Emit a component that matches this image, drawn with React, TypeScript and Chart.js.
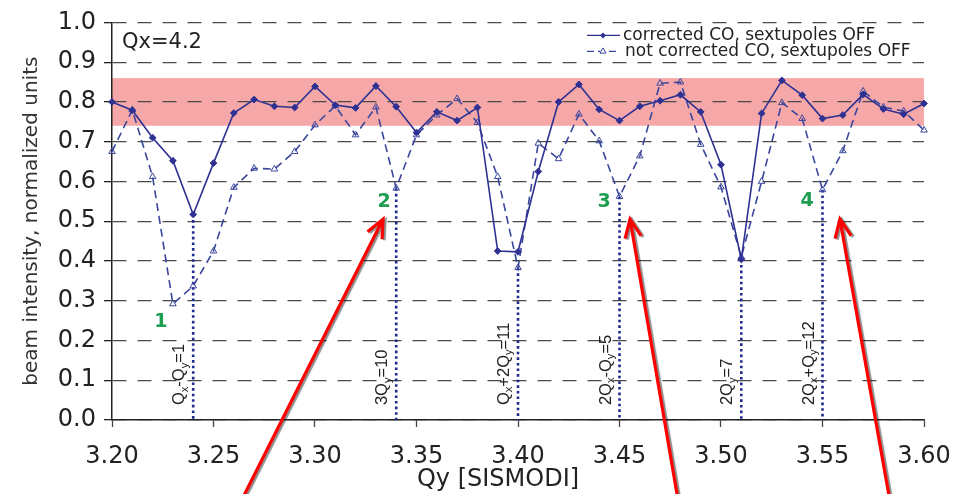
import React, { useEffect, useRef } from 'react';
import { Chart, registerables } from 'chart.js';

Chart.register(...registerables);

// ---------- data ----------
const qy = [
  3.20, 3.21, 3.22, 3.23, 3.24, 3.25, 3.26, 3.27, 3.28, 3.29,
  3.30, 3.31, 3.32, 3.33, 3.34, 3.35, 3.36, 3.37, 3.38, 3.39,
  3.40, 3.41, 3.42, 3.43, 3.44, 3.45, 3.46, 3.47, 3.48, 3.49,
  3.50, 3.51, 3.52, 3.53, 3.54, 3.55, 3.56, 3.57, 3.58, 3.59, 3.60,
];

const corrected = [
  0.800, 0.779, 0.710, 0.652, 0.517, 0.646, 0.772, 0.806, 0.789, 0.786,
  0.839, 0.792, 0.785, 0.840, 0.788, 0.723, 0.775, 0.753, 0.786, 0.425,
  0.423, 0.625, 0.800, 0.844, 0.781, 0.753, 0.789, 0.803, 0.818, 0.775,
  0.642, 0.404, 0.771, 0.854, 0.817, 0.758, 0.767, 0.819, 0.782, 0.769, 0.796,
];

const notCorrected = [
  0.675, 0.780, 0.612, 0.292, 0.337, 0.425, 0.585, 0.633, 0.631, 0.675,
  0.742, 0.790, 0.717, 0.787, 0.583, 0.717, 0.767, 0.808, 0.748, 0.612,
  0.383, 0.696, 0.657, 0.769, 0.702, 0.562, 0.664, 0.847, 0.850, 0.693,
  0.586, 0.410, 0.600, 0.798, 0.758, 0.579, 0.677, 0.827, 0.787, 0.777, 0.729,
];

const seriesNames = ['corrected CO, sextupoles OFF', 'not corrected CO, sextupoles OFF'];

// stable-intensity band
const bandRange = [0.74, 0.86];

// resonance lines
const resonanceQy = [3.24, 3.34, 3.40, 3.45, 3.51, 3.55];
const resonanceTop = [0.517, 0.583, 0.383, 0.562, 0.404, 0.579];
const resonanceLabels = ['Q_x-Q_y=1', '3Q_y=10', 'Q_x+2Q_y=11', '2Q_x-Q_y=5', '2Q_y=7', '2Q_x+Q_y=12'];
const resonanceLabelY = 0.0375;

// green numbered markers
const markerLabels = ['1', '2', '3', '4'];
const markerQy = [3.2241, 3.334, 3.4424, 3.5424];
const markerY = [0.2475, 0.5475, 0.5475, 0.55];

// red arrows (data coordinates)
const arrowTailQy = [3.264, 3.4788, 3.5831];
const arrowTailY = [-0.2, -0.2, -0.2];
const arrowTipQy = [3.3335, 3.4552, 3.5586];
const arrowTipY = [0.505, 0.505, 0.505];

const yTicks = { min: 0, max: 1, step: 0.1 };
const xTicks = { min: 3.2, max: 3.6, step: 0.05 };

const annotationText = 'Qx=4.2';
const xTitle = 'Qy [SISMODI]';
const yTitle = 'beam intensity, normalized units';

// ---------- styles ----------
const BLUE = '#2E3192';
const BLUE2 = '#3A469C';
const DOT_BLUE = '#1F2A90';
const SANS = "'DejaVu Sans'";
const ARIAL = "'Liberation Sans'";
const TEXT = '#222';

function drawRich(ctx: CanvasRenderingContext2D, text: string, size: number, family: string) {
  const parts: { t: string; sub: boolean }[] = [];
  for (let i = 0; i < text.length; i++) {
    if (text[i] === '_' && i + 1 < text.length) {
      parts.push({ t: text[i + 1], sub: true });
      i++;
    } else {
      const last = parts[parts.length - 1];
      if (last && !last.sub) last.t += text[i];
      else parts.push({ t: text[i], sub: false });
    }
  }
  let xpos = 0;
  for (const p of parts) {
    ctx.font = `${p.sub ? size * 0.68 : size}px ${family}`;
    ctx.fillText(p.t, xpos, p.sub ? size * 0.2 : 0);
    xpos += ctx.measureText(p.t).width;
  }
}

function drawArrow(ctx: CanvasRenderingContext2D, x1: number, y1: number, x2: number, y2: number) {
  const ang = Math.atan2(y2 - y1, x2 - x1);
  const L = 20;
  const h = 0.42;
  ctx.beginPath();
  ctx.moveTo(x1, y1);
  ctx.lineTo(x2, y2);
  ctx.moveTo(x2 - L * Math.cos(ang - h), y2 - L * Math.sin(ang - h));
  ctx.lineTo(x2, y2);
  ctx.lineTo(x2 - L * Math.cos(ang + h), y2 - L * Math.sin(ang + h));
  ctx.stroke();
}

function diamond(ctx: CanvasRenderingContext2D, x: number, y: number, r: number) {
  ctx.beginPath();
  ctx.moveTo(x, y - r);
  ctx.lineTo(x + r, y);
  ctx.lineTo(x, y + r);
  ctx.lineTo(x - r, y);
  ctx.closePath();
  ctx.fill();
}

function triangle(ctx: CanvasRenderingContext2D, x: number, y: number, r: number) {
  ctx.beginPath();
  ctx.moveTo(x, y - r);
  ctx.lineTo(x + r * 0.87, y + r * 0.5);
  ctx.lineTo(x - r * 0.87, y + r * 0.5);
  ctx.closePath();
  ctx.stroke();
}

const annotPlugin = {
  id: 'annot',
  beforeDraw(chart: any) {
    const { ctx, chartArea: a, scales } = chart;
    const y = scales.y;
    const top = y.getPixelForValue(bandRange[1]);
    const bot = y.getPixelForValue(bandRange[0]);
    ctx.save();
    ctx.fillStyle = '#F6A8A9';
    ctx.fillRect(a.left, top, a.right - a.left, bot - top);
    ctx.restore();
  },
  afterDraw(chart: any) {
    const { ctx, chartArea: a, scales } = chart;
    const x = scales.x;
    const y = scales.y;
    ctx.save();

    // resonance labels (rotated)
    ctx.fillStyle = TEXT;
    ctx.textBaseline = 'alphabetic';
    ctx.textAlign = 'left';
    resonanceQy.forEach((q, i) => {
      const px = x.getPixelForValue(q);
      const py = y.getPixelForValue(resonanceLabelY);
      ctx.save();
      ctx.translate(px - 9, py);
      ctx.rotate(-Math.PI / 2);
      drawRich(ctx, resonanceLabels[i], 16.5, ARIAL);
      ctx.restore();
    });

    // green numbers
    ctx.fillStyle = '#1E9E50';
    ctx.font = `bold 19px ${SANS}`;
    ctx.textAlign = 'center';
    ctx.textBaseline = 'middle';
    markerLabels.forEach((t, i) => {
      ctx.fillText(t, x.getPixelForValue(markerQy[i]), y.getPixelForValue(markerY[i]));
    });

    // Qx annotation
    ctx.fillStyle = TEXT;
    ctx.font = `21px ${SANS}`;
    ctx.textAlign = 'left';
    ctx.fillText(annotationText, a.left + 10, a.top + 20);

    // x title
    ctx.font = `24px ${SANS}`;
    ctx.textAlign = 'center';
    ctx.fillText(xTitle, (a.left + a.right) / 2 - 20, a.bottom + 60);

    // legend
    const lx = a.right - 337;
    const rows = [a.top + 13, a.top + 29];
    ctx.font = `17px ${SANS}`;
    ctx.textAlign = 'left';
    ctx.textBaseline = 'middle';
    ctx.lineWidth = 1.4;
    // row 1
    ctx.strokeStyle = BLUE;
    ctx.fillStyle = BLUE;
    ctx.setLineDash([]);
    ctx.beginPath();
    ctx.moveTo(lx, rows[0]);
    ctx.lineTo(lx + 33, rows[0]);
    ctx.stroke();
    diamond(ctx, lx + 16, rows[0], 3);
    // row 2
    ctx.strokeStyle = BLUE2;
    ctx.setLineDash([7, 4]);
    ctx.beginPath();
    ctx.moveTo(lx, rows[1]);
    ctx.lineTo(lx + 33, rows[1]);
    ctx.stroke();
    ctx.setLineDash([]);
    ctx.fillStyle = '#fff';
    ctx.beginPath();
    ctx.arc(lx + 16, rows[1], 3, 0, Math.PI * 2);
    ctx.fill();
    ctx.lineWidth = 1;
    triangle(ctx, lx + 16, rows[1], 3.5);
    ctx.fillStyle = TEXT;
    ctx.fillText(seriesNames[0], lx + 36, rows[0]);
    ctx.fillText(seriesNames[1], lx + 38, rows[1]);

    // red arrows
    ctx.strokeStyle = '#FF0000';
    ctx.lineWidth = 3.2;
    ctx.lineCap = 'butt';
    ctx.lineJoin = 'miter';
    ctx.shadowColor = 'rgba(0,0,0,0.45)';
    ctx.shadowOffsetX = 2;
    ctx.shadowOffsetY = 1;
    ctx.shadowBlur = 1;
    arrowTipQy.forEach((q, i) => {
      drawArrow(
        ctx,
        x.getPixelForValue(arrowTailQy[i]),
        y.getPixelForValue(arrowTailY[i]),
        x.getPixelForValue(q),
        y.getPixelForValue(arrowTipY[i])
      );
    });
    ctx.restore();
  },
};

export default function App() {
  const ref = useRef<HTMLCanvasElement>(null);

  useEffect(() => {
    const mainSets: any[] = [
      {
        label: seriesNames[0],
        data: qy.map((q, i) => ({ x: q, y: corrected[i] })),
        borderColor: BLUE,
        backgroundColor: BLUE,
        borderWidth: 1.6,
        pointStyle: 'rectRot',
        pointRadius: 3.4,
        pointBackgroundColor: BLUE,
        pointBorderColor: BLUE,
        pointBorderWidth: 1,
        tension: 0,
        clip: false,
        order: 1,
      },
      {
        label: seriesNames[1],
        data: qy.map((q, i) => ({ x: q, y: notCorrected[i] })),
        borderColor: BLUE2,
        backgroundColor: 'rgba(255,255,255,0)',
        borderWidth: 1.6,
        borderDash: [8, 5],
        pointStyle: 'triangle',
        pointRadius: 3.8,
        pointBackgroundColor: 'rgba(255,255,255,0)',
        pointBorderColor: BLUE2,
        pointBorderWidth: 1,
        tension: 0,
        clip: false,
        order: 2,
      },
    ];
    const resSets = resonanceQy.map((q, i) => ({
      label: resonanceLabels[i],
      data: [
        { x: q, y: resonanceTop[i] },
        { x: q, y: 0 },
      ],
      borderColor: DOT_BLUE,
      borderWidth: 2.6,
      borderDash: [2.6, 3],
      pointRadius: 0,
      clip: false,
      order: 3,
    }));

    const chart = new Chart(ref.current as HTMLCanvasElement, {
      type: 'line',
      data: { datasets: [...mainSets, ...resSets] },
      options: {
        animation: false,
        responsive: false,
        devicePixelRatio: 1,
        events: [],
        layout: { padding: { top: 20, right: 48, left: 0, bottom: 0 } },
        plugins: {
          legend: { display: false },
          tooltip: { enabled: false },
        },
        scales: {
          x: {
            type: 'linear',
            min: xTicks.min,
            max: xTicks.max,
            afterFit: (s: any) => {
              s.height = 74;
            },
            ticks: {
              stepSize: xTicks.step,
              callback: (v: any) => Number(v).toFixed(2),
              font: { family: SANS, size: 24 },
              color: TEXT,
              padding: 15,
              maxRotation: 0,
              autoSkip: false,
            },
            grid: {
              drawOnChartArea: false,
              drawTicks: true,
              tickLength: 7,
              tickColor: '#444',
              tickWidth: 1.3,
            },
            border: { color: '#222', width: 1.5 },
          },
          y: {
            type: 'linear',
            min: yTicks.min,
            max: yTicks.max,
            afterFit: (s: any) => {
              s.width = 112;
            },
            ticks: {
              stepSize: yTicks.step,
              callback: (v: any) => Number(v).toFixed(1),
              font: { family: SANS, size: 24 },
              color: TEXT,
              padding: 8,
            },
            grid: {
              color: '#4a4a4a',
              lineWidth: 1.3,
              drawTicks: true,
              tickLength: 8,
              tickColor: '#222',
              tickWidth: 1.3,
              tickBorderDash: [],
            },
            border: { color: '#222', width: 1.5, dash: [14, 11] },
            title: {
              display: true,
              text: yTitle,
              font: { family: SANS, size: 20 },
              color: '#333',
              padding: { top: 20, bottom: 0 },
            },
          },
        },
      } as any,
      plugins: [annotPlugin],
    });
    return () => chart.destroy();
  }, []);

  return (
    <div style={{ position: 'fixed', left: 0, top: 0, width: 972, height: 494, background: '#fff' }}>
      <canvas ref={ref} width={972} height={494} style={{ display: 'block', width: 972, height: 494 }} />
    </div>
  );
}
